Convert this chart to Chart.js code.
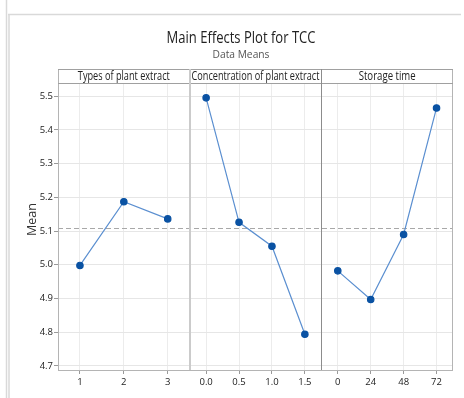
<!DOCTYPE html>
<html lang="en">
<head>
<meta charset="UTF-8">
<title>Main Effects Plot for TCC</title>
<script src="https://cdn.jsdelivr.net/npm/chart.js"></script>
<style>
  html, body { margin: 0; padding: 0; background: #fff; }
  #wrap { width: 464px; height: 398px; }
</style>
</head>
<body>
<div id="wrap"><canvas id="chart" width="464" height="398"></canvas></div>
<script>
// values
const panelTitles = ['Types of plant extract', 'Concentration of plant extract', 'Storage time'];
const extractLevels = ['1', '2', '3'];
const extractMeans = [4.998, 5.187, 5.136];
const concLevels = ['0.0', '0.5', '1.0', '1.5'];
const concMeans = [5.495, 5.126, 5.055, 4.794];
const timeLevels = ['0', '24', '48', '72'];
const timeMeans = [4.982, 4.897, 5.090, 5.465];
const grandMean = 5.108;
const yTicks = [4.7, 4.8, 4.9, 5.0, 5.1, 5.2, 5.3, 5.4, 5.5];

const FONT = "'Open Sans', 'DejaVu Sans', sans-serif";
const lineBlue = '#5b8fd0';
const dotBlue = '#0a52a3';

function xAxis(labels) {
    return {
        type: 'category',
        labels: labels,
        position: 'bottom',
        stack: 'panels',
        stackWeight: 1,
        offset: true,
        grid: { offset: false, color: '#ececec', tickColor: '#9a9a9a', tickLength: 4 },
        border: { display: false },
        ticks: { color: '#222', font: { family: FONT, size: 9.5 }, padding: 3, maxRotation: 0, autoSkip: false },
        afterFit: s => { s.height = 20; }
    };
}

function lineSet(data, axisId) {
    return {
        data: data,
        xAxisID: axisId,
        yAxisID: 'y',
        borderColor: lineBlue,
        borderWidth: 1.2,
        pointRadius: 3.2,
        pointHoverRadius: 3.2,
        pointBackgroundColor: dotBlue,
        pointBorderColor: dotBlue,
        tension: 0
    };
}

const pageLines = {
    id: 'pageLines',
    beforeDraw(chart) {
        const ctx = chart.ctx;
        ctx.save();
        ctx.strokeStyle = '#d9d9d9';
        ctx.lineWidth = 1.5;
        ctx.beginPath();
        ctx.moveTo(6.5, 0); ctx.lineTo(6.5, 398);
        ctx.moveTo(9, 14); ctx.lineTo(9, 398);
        ctx.moveTo(8, 14.5); ctx.lineTo(461, 14.5);
        ctx.stroke();
        ctx.restore();
    }
};

// mean line, panel frame, strip headers and titles
const panels = {
    id: 'panels',
    beforeDatasetsDraw(chart) {
        const ctx = chart.ctx;
        const area = chart.chartArea;
        const y = chart.scales.y.getPixelForValue(grandMean);
        ctx.save();
        ctx.strokeStyle = '#a8a8a8';
        ctx.lineWidth = 1;
        ctx.setLineDash([5, 3]);
        ctx.beginPath();
        ctx.moveTo(area.left, Math.round(y) + 0.5);
        ctx.lineTo(area.right, Math.round(y) + 0.5);
        ctx.stroke();
        ctx.restore();
    },
    afterDraw(chart) {
        const ctx = chart.ctx;
        const area = chart.chartArea;
        const ids = ['x1', 'x2', 'x3'];
        const stripTop = area.top - 14;
        ctx.save();
        ctx.lineWidth = 1;
        // outer frame
        ctx.strokeStyle = '#b4b4b4';
        ctx.strokeRect(area.left + 0.5, stripTop + 0.5, area.right - area.left - 1, area.bottom - stripTop);
        ctx.strokeStyle = '#a0a0a0';
        ctx.beginPath();
        ctx.moveTo(area.left, stripTop + 0.5); ctx.lineTo(area.right, stripTop + 0.5);
        ctx.moveTo(area.left, area.top + 0.5); ctx.lineTo(area.right, area.top + 0.5);
        ctx.stroke();
        // separators
        const s1 = chart.scales.x1.right;
        const s2 = chart.scales.x2.right;
        ctx.strokeStyle = '#cbcbcb';
        ctx.lineWidth = 2;
        ctx.beginPath();
        ctx.moveTo(Math.round(s1), stripTop); ctx.lineTo(Math.round(s1), area.bottom);
        ctx.stroke();
        ctx.strokeStyle = '#8c8c8c';
        ctx.lineWidth = 1;
        ctx.beginPath();
        ctx.moveTo(Math.round(s2) + 0.5, stripTop); ctx.lineTo(Math.round(s2) + 0.5, area.bottom);
        ctx.stroke();
        // strip labels
        ctx.fillStyle = '#222';
        ctx.textAlign = 'center';
        ctx.textBaseline = 'middle';
        ctx.font = '12.5px ' + FONT;
        const widths = [92, 128, 57];
        ids.forEach((id, i) => {
            const sc = chart.scales[id];
            ctx.fillText(panelTitles[i], (sc.left + sc.right) / 2, stripTop + 7.5, widths[i]);
        });
        // titles
        ctx.font = '16px ' + FONT;
        ctx.fillStyle = '#222';
        ctx.fillText('Main Effects Plot for TCC', 241, 38, 149);
        ctx.font = '11.5px ' + FONT;
        ctx.fillStyle = '#555';
        ctx.fillText('Data Means', 241, 55, 57);
        // y axis title
        ctx.translate(32, (stripTop + area.bottom) / 2);
        ctx.rotate(-Math.PI / 2);
        ctx.font = '12.5px ' + FONT;
        ctx.fillStyle = '#333';
        ctx.fillText('Mean', 0, 0, 34);
        ctx.restore();
    }
};

new Chart(document.getElementById('chart'), {
    type: 'line',
    data: {
        datasets: [
            lineSet(extractMeans, 'x1'),
            lineSet(concMeans, 'x2'),
            lineSet(timeMeans, 'x3')
        ]
    },
    options: {
        responsive: false,
        animation: false,
        devicePixelRatio: 1,
        layout: { padding: { top: 83, bottom: 8, left: 0, right: 11 } },
        plugins: { legend: { display: false }, tooltip: { enabled: false } },
        scales: {
            x1: xAxis(extractLevels),
            x2: xAxis(concLevels),
            x3: xAxis(timeLevels),
            y: {
                min: 4.688,
                max: 5.539,
                afterBuildTicks: s => { s.ticks = yTicks.map(v => ({ value: v })); },
                grid: { color: '#e6e6e6', tickColor: '#9a9a9a', tickLength: 4 },
                border: { display: false },
                ticks: { color: '#222', font: { family: FONT, size: 9.5 }, padding: 1, callback: v => v.toFixed(1) },
                afterFit: s => { s.width = 58; }
            }
        }
    },
    plugins: [pageLines, panels]
});
</script>
</body>
</html>
